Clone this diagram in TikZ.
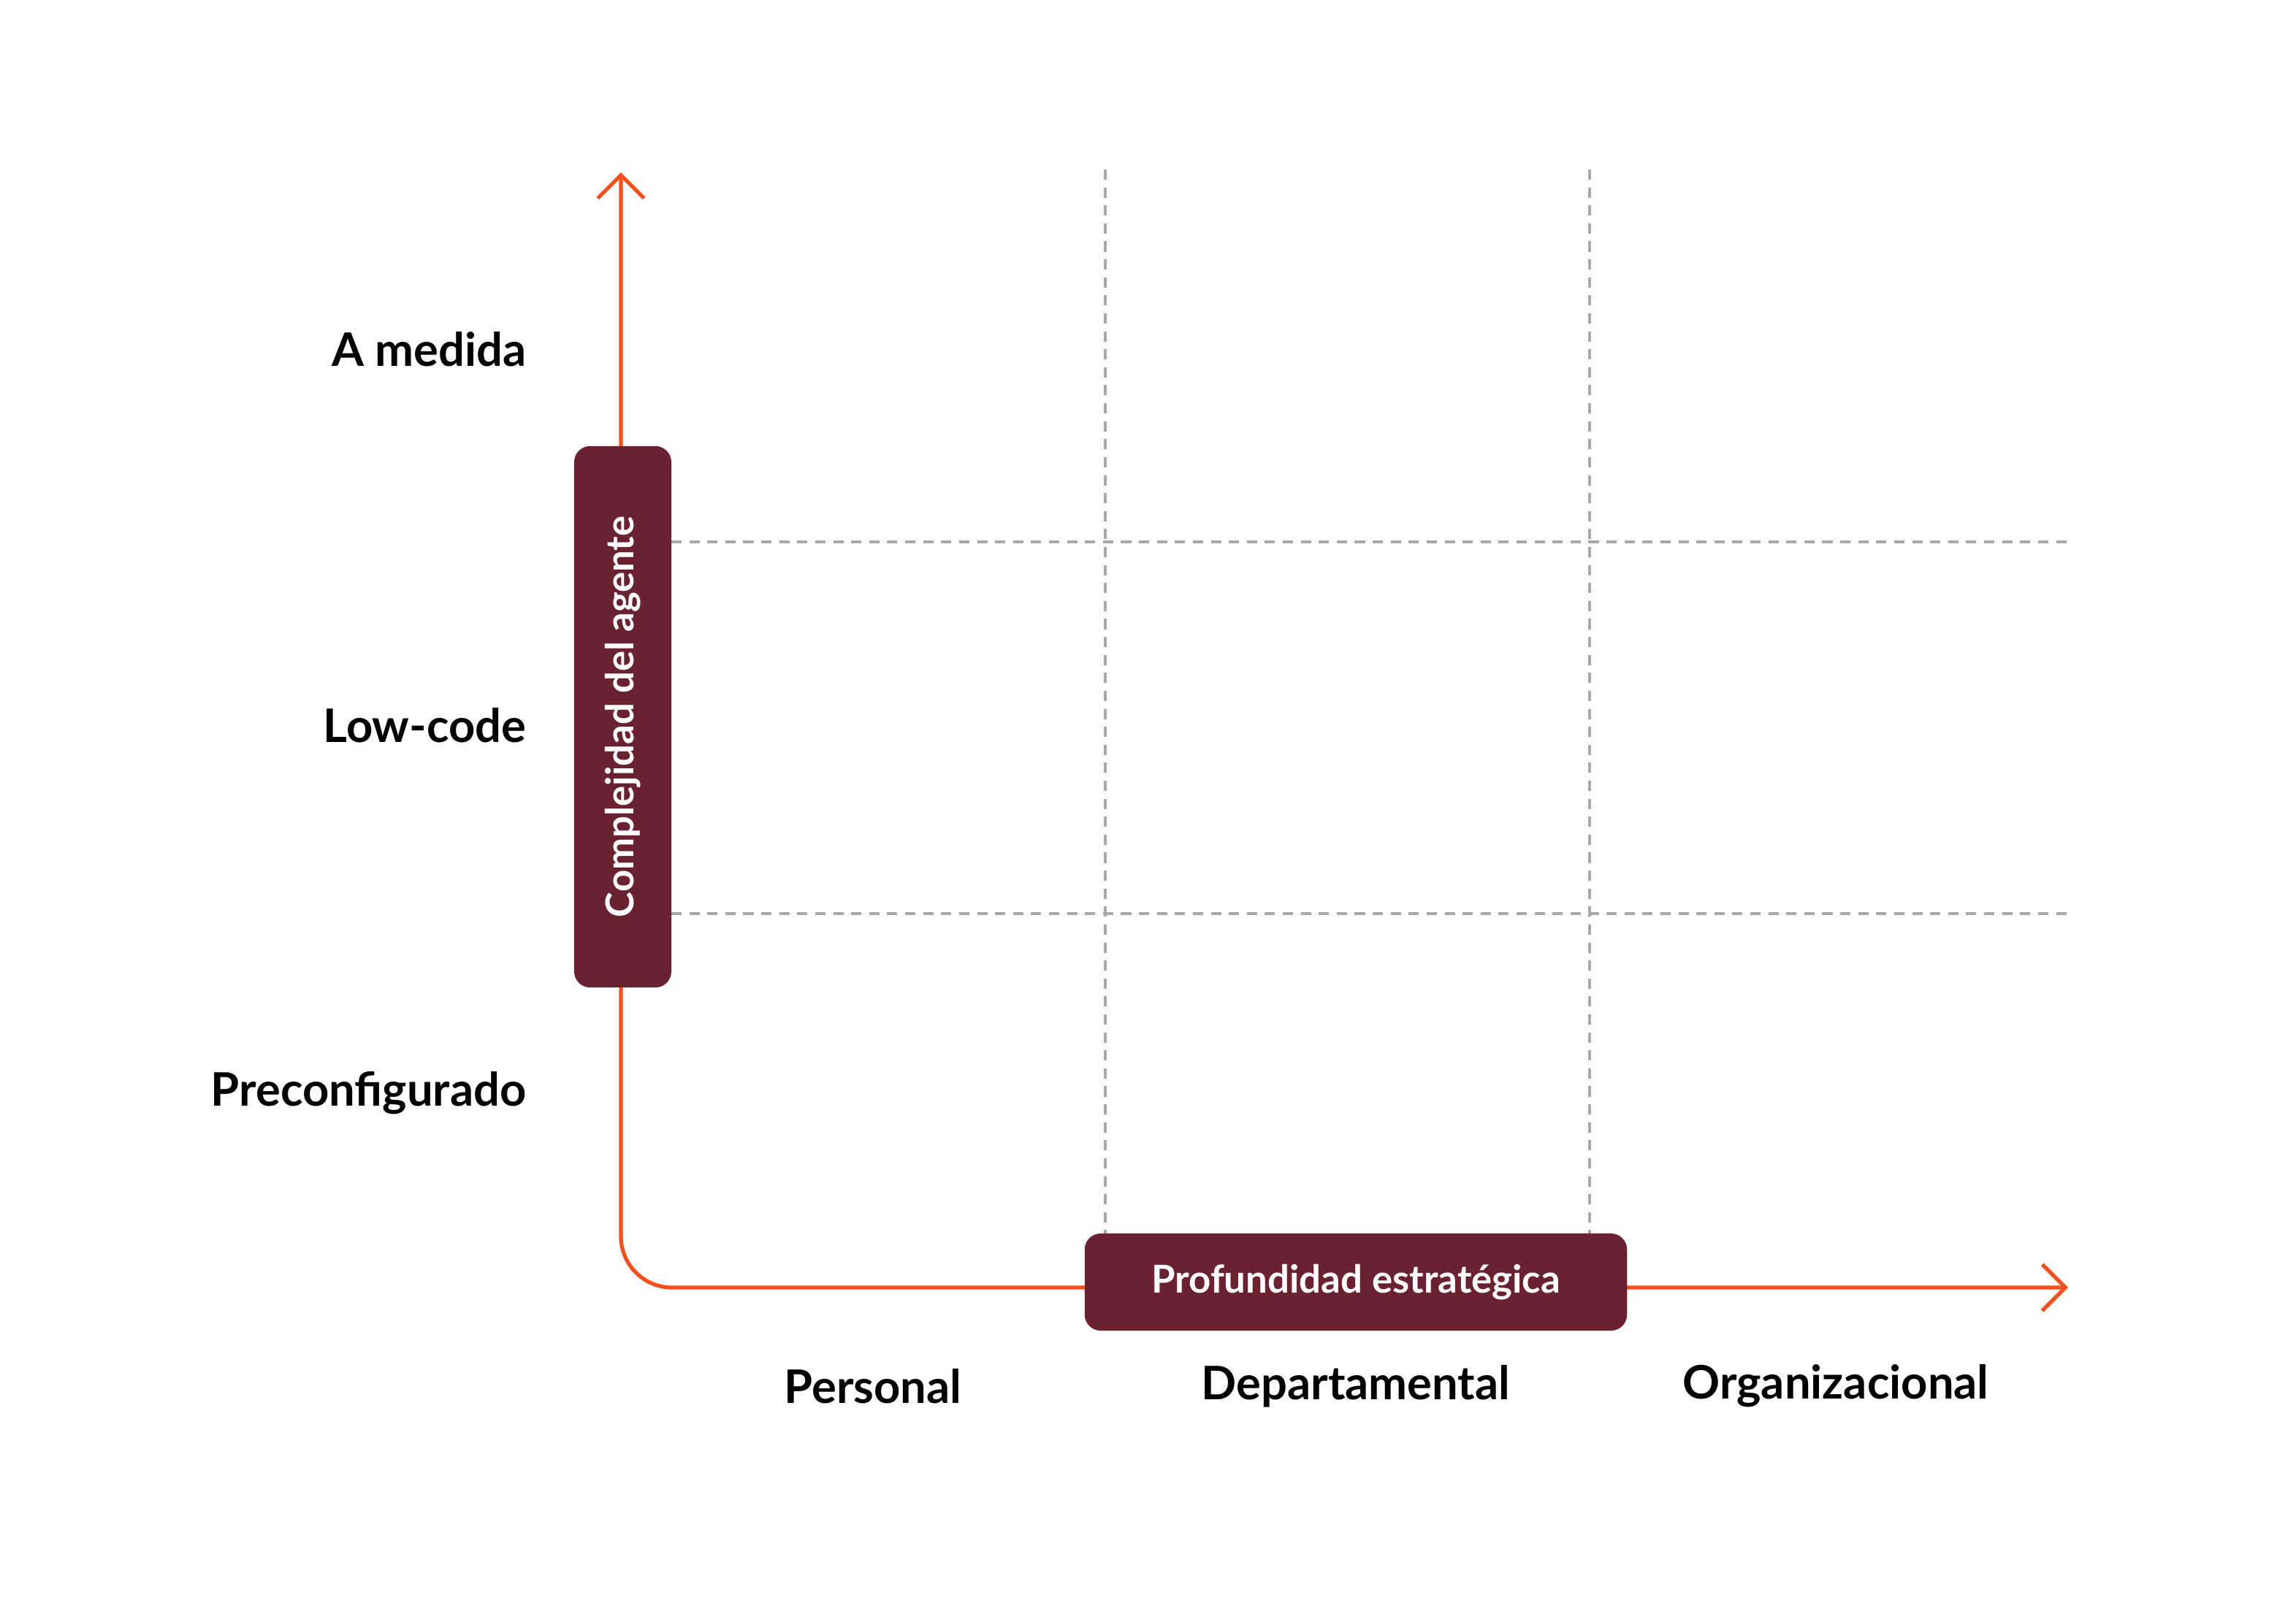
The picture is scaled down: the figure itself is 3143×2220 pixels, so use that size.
\documentclass[tikz,border=0pt]{standalone}
\usepackage{fontspec}
\setmainfont{Lato}
\usetikzlibrary{arrows.meta}
\definecolor{axisor}{HTML}{F4511E}
\definecolor{boxred}{HTML}{6B2230}
\definecolor{grid}{HTML}{A8A8A8}
\tikzset{
  gridline/.style={grid, dashed, line width=1.2pt, dash pattern=on 4pt off 3pt},
  axisline/.style={axisor, line width=1.5pt, rounded corners=0.7cm},
  tickbox/.style={fill=boxred, rounded corners=0.22cm, text=white, font=\fontsize{15}{18}\selectfont\bfseries, inner sep=0pt},
  lab/.style={font=\fontsize{18}{22}\selectfont\bfseries, text=black, inner sep=0pt}
}
\begin{document}
\begin{tikzpicture}[x=0.01cm,y=-0.01cm]
\useasboundingbox (0,0) rectangle (3143,2220);
% grid
\coordinate (v1t) at (1513,232); \coordinate (v1b) at (1513,1689);
\coordinate (v2t) at (2176,232); \coordinate (v2b) at (2176,1689);
\coordinate (h1l) at (919,742); \coordinate (h1r) at (2835,742);
\coordinate (h2l) at (919,1251); \coordinate (h2r) at (2835,1251);
\draw[gridline] (v1t) -- (v1b);
\draw[gridline] (v2t) -- (v2b);
\draw[gridline] (h1l) -- (h1r);
\draw[gridline] (h2l) -- (h2r);
% axes
\coordinate (ytop) at (850,236);
\coordinate (corner) at (850,1763);
\coordinate (xend) at (2831,1763);
\draw[axisline, {Straight Barb[length=9pt,width=18pt,line width=1.5pt]}-{Straight Barb[length=9pt,width=18pt,line width=1.5pt]}] (ytop) -- (corner) -- (xend);
% boxes
\node[tickbox, minimum width=1.33cm, minimum height=7.41cm] (vbox) at (852.5,981.5) {\rotatebox{90}{Complejidad del agente}};
\node[tickbox, minimum width=7.42cm, minimum height=1.33cm] (hbox) at (1856,1755.5) {Profundidad estratégica};
% labels
\node[lab, anchor=east] (l1) at (721,478) {A medida};
\node[lab, anchor=east] (l2) at (721,993) {Low-code};
\node[lab, anchor=east] (l3) at (721,1497) {Preconfigurado};
\node[lab] (b1) at (1195,1898) {Personal};
\node[lab] (b2) at (1856,1898) {Departamental};
\node[lab] (b3) at (2513,1898) {Organizacional};
\end{tikzpicture}
\end{document}
